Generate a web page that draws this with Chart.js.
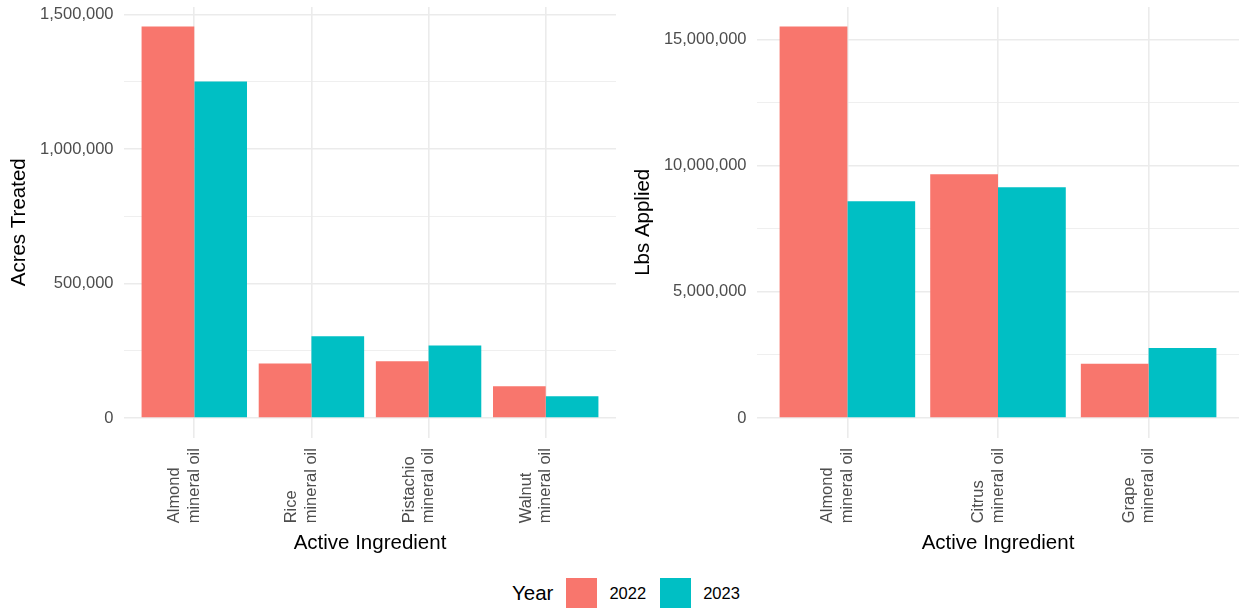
<!DOCTYPE html>
<html>
<head>
<meta charset="utf-8">
<script src="https://cdn.jsdelivr.net/npm/chart.js@4.4.1/dist/chart.umd.min.js"></script>
<style>
  html, body { margin: 0; padding: 0; background: #fff; }
  body { width: 1239px; height: 608px; position: relative; overflow: hidden; font-family: 'Liberation Sans', Arial, sans-serif; }
  canvas { position: absolute; top: 0; }
  #acres { left: 0; }
  #lbs { left: 620px; }
  .legend { position: absolute; left: 512px; top: 578px; height: 30px; display: flex; align-items: center; color: #000; }
  .legend .title { font-size: 20.5px; margin-right: 13px; }
  .legend .key { width: 31px; height: 30px; margin-right: 12px; }
  .legend .lab { font-size: 16.5px; margin-right: 14px; }
</style>
</head>
<body>
<canvas id="acres" width="620" height="560"></canvas>
<canvas id="lbs" width="619" height="560"></canvas>
<div class="legend" id="legend"></div>
<script>
const years = ['2022', '2023']
const colors = ['#F8766D', '#00BFC4']

// left panel: acres treated
const acresCategories = [['Almond', 'mineral oil'], ['Rice', 'mineral oil'], ['Pistachio', 'mineral oil'], ['Walnut', 'mineral oil']]
const acres2022 = [1456000, 203000, 211000, 118000]
const acres2023 = [1252000, 304000, 270000, 81000]
const acresTicks = [0, 500000, 1000000, 1500000]

// right panel: lbs applied
const lbsCategories = [['Almond', 'mineral oil'], ['Citrus', 'mineral oil'], ['Grape', 'mineral oil']]
const lbs2022 = [15510000, 9660000, 2150000]
const lbs2023 = [8590000, 9140000, 2770000]
const lbsTicks = [0, 5000000, 10000000, 15000000]

const FONT = "'Liberation Sans', Arial, sans-serif"
Chart.defaults.font.family = FONT

// ggplot style rotated labels: lines start at a common edge
function rotatedLabels(cats) {
    return {
        id: 'rotatedLabels',
        afterDraw(chart) {
            const { ctx, chartArea } = chart
            const x = chart.scales.x
            ctx.save()
            ctx.font = '16.5px ' + FONT
            ctx.fillStyle = '#4D4D4D'
            ctx.textAlign = 'left'
            ctx.textBaseline = 'alphabetic'
            cats.forEach((lines, i) => {
                const w = Math.max(...lines.map(l => ctx.measureText(l).width))
                ctx.save()
                ctx.translate(x.getPixelForValue(i), chartArea.bottom + 10.5 + w)
                ctx.rotate(-Math.PI / 2)
                lines.forEach((line, k) => ctx.fillText(line, 0, 4.5 - (lines.length - 1 - k) * 19.5))
                ctx.restore()
            })
            ctx.restore()
        }
    }
}

function drawPanel(canvas, cats, series, majorTicks, yTitle, yWidth, titlePad, rightPad) {
    const top = Math.max(...series.flat())
    const allTicks = []
    majorTicks.forEach((t, i) => {
        allTicks.push(t)
        if (i < majorTicks.length - 1) allTicks.push((t + majorTicks[i + 1]) / 2)
    })

    new Chart(canvas, {
        type: 'bar',
        data: {
            labels: cats.map((_, i) => i),
            datasets: series.map((vals, i) => ({
                label: years[i],
                data: vals,
                backgroundColor: colors[i],
                categoryPercentage: 0.9,
                barPercentage: 1.0
            }))
        },
        options: {
            responsive: false,
            animation: false,
            layout: { padding: { top: 7, left: 0, right: rightPad, bottom: 0 } },
            plugins: { legend: { display: false }, tooltip: { enabled: false } },
            scales: {
                x: {
                    type: 'linear',
                    min: -0.6,
                    max: cats.length - 0.4,
                    offset: false,
                    border: { display: false },
                    grid: { offset: false, color: '#EBEBEB', lineWidth: 1.6, drawTicks: false },
                    ticks: { display: false, autoSkip: false },
                    afterBuildTicks: s => { s.ticks = cats.map((_, i) => ({ value: i })) },
                    afterFit: s => { s.height = 122.4; s.paddingLeft = 0; s.paddingRight = 0 },
                    title: { display: true, text: 'Active Ingredient', color: '#000', font: { size: 20.5 }, padding: { top: 0, bottom: 4 } }
                },
                y: {
                    min: -top * 0.05,
                    max: top * 1.05,
                    border: { display: false },
                    grid: {
                        color: '#EBEBEB',
                        lineWidth: c => majorTicks.includes(c.tick.value) ? 1.6 : 0.8,
                        drawTicks: false
                    },
                    ticks: {
                        color: '#4D4D4D',
                        font: { size: 16.5 },
                        padding: 10.5,
                        autoSkip: false,
                        callback: v => majorTicks.includes(v) ? v.toLocaleString('en-US') : ''
                    },
                    afterBuildTicks: s => { s.ticks = allTicks.map(v => ({ value: v })) },
                    afterFit: s => { s.width = yWidth; s.paddingTop = 0; s.paddingBottom = 0 },
                    title: { display: true, text: yTitle, color: '#000', font: { size: 20.5 }, padding: { top: titlePad, bottom: 0 } }
                }
            }
        },
        plugins: [rotatedLabels(cats)]
    })
}

drawPanel(document.getElementById('acres'), acresCategories, [acres2022, acres2023], acresTicks, 'Acres Treated', 124, 7, 4)
drawPanel(document.getElementById('lbs'), lbsCategories, [lbs2022, lbs2023], lbsTicks, 'Lbs Applied', 137, 11.5, 0)

// shared legend under both panels
const legend = document.getElementById('legend')
legend.innerHTML = '<span class="title">Year</span>' +
    years.map((y, i) => `<span class="key" style="background:${colors[i]}"></span><span class="lab">${y}</span>`).join('')
</script>
</body>
</html>
